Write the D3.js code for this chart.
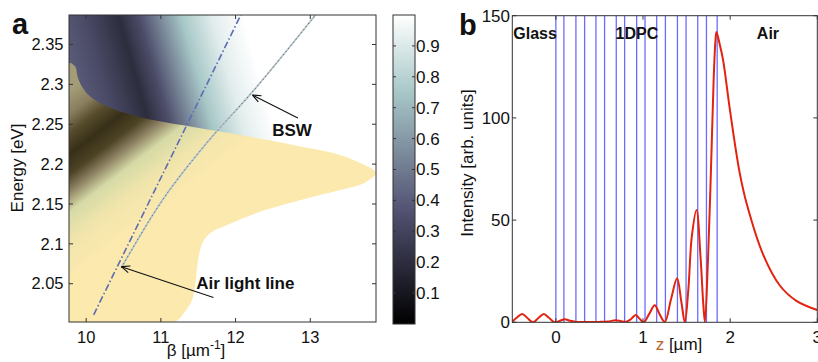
<!DOCTYPE html>
<html><head><meta charset="utf-8">
<script src="https://cdn.jsdelivr.net/npm/d3@7"></script>
<style>
body{margin:0;background:#fff}
svg{display:block}
text{font-family:"Liberation Sans",Arial,Helvetica,sans-serif;fill:#111}
</style>
</head><body>
<svg id="chart" width="818" height="362"></svg>
<script>
// ---------------- data ----------------
const betaDomain = [9.77, 13.88];
const energyDomain = [2.002, 2.387];
const betaTicks = [10, 11, 12, 13];
const energyTicks = [2.05, 2.1, 2.15, 2.2, 2.25, 2.3, 2.35];
const colorbarTicks = [0.1, 0.2, 0.3, 0.4, 0.5, 0.6, 0.7, 0.8, 0.9];
const boneStops = [[0, "#000000"], [0.375, "#545474"], [0.75, "#a7c7c7"], [1, "#ffffff"]];
const yellowRamp = [[0, "#2e2712"], [0.25, "#554a2a"], [0.5, "#938868"], [0.75, "#d6daa6"], [1, "#fce9ae"]];

// heat-map gradient: axis (start/end in beta,E) and value profile along it
const heatUpperAxis = [[9.843, 2.305], [12.161, 2.367]];
const heatUpperProfile = [[0, 0.40], [0.15, 0.33], [0.333, 0.20], [0.44, 0.34], [0.55, 0.54], [0.667, 0.75], [0.833, 0.92], [1, 1]];
const heatLowerAxis = [[9.782, 2.2916], [10.999, 2.1421]];
const heatLowerProfile = [[0, 0.56], [0.12, 0.46], [0.22, 0.26], [0.333, 0.06], [0.44, 0.2], [0.54, 0.5], [0.64, 0.75], [0.8, 0.93], [1, 1]];

// yellow (leaky) region outline, beta vs energy; first 16 points = upper boundary
const yellowRegion = [
  [9.77, 2.3266], [9.853, 2.3223], [9.884, 2.3098], [9.942, 2.2972], [10.054, 2.2847],
  [10.232, 2.2743], [10.455, 2.2659], [10.723, 2.2589], [11.080, 2.2521], [11.526, 2.2451],
  [11.972, 2.2380], [12.419, 2.2305], [12.865, 2.2221], [13.311, 2.2138], [13.668, 2.2013],
  [13.88, 2.1891], [13.758, 2.1782], [13.668, 2.1741], [13.039, 2.1590], [12.329, 2.1402],
  [11.928, 2.1252], [11.687, 2.1152], [11.580, 2.1051], [11.526, 2.0926], [11.486, 2.0713],
  [11.459, 2.0487], [11.419, 2.0300], [11.312, 2.0137], [11.178, 2.002], [9.77, 2.002]
];
const airLightLine = [[10.10, 2.011], [12.07, 2.387]];
const bswLine = [[10.47, 2.070], [11.0, 2.152], [11.6, 2.225], [12.22, 2.290], [13.07, 2.387]];
const annotations = [
  {text: "BSW", at: [12.49, 2.2355], from: [12.834, 2.2577], to: [12.227, 2.2866]},
  {text: "Air light line", at: [11.473, 2.0431], from: [11.704, 2.0328], to: [10.472, 2.0714]}
];

// panel b
const zDomain = [-0.5, 3];
const intensityDomain = [0, 150];
const zTicks = [0, 1, 2, 3];
const intensityTicks = [0, 50, 100, 150];
const layerEdges = [0, 0.092, 0.230, 0.330, 0.460, 0.559, 0.693, 0.789, 0.927, 1.023, 1.157, 1.257, 1.395, 1.494, 1.628, 1.728, 1.851];
const zValues = [-0.5, -0.45, -0.386, -0.33, -0.264, -0.2, -0.138, -0.08, -0.015, 0.04, 0.1, 0.16, 0.22, 0.3, 0.4, 0.5, 0.6, 0.686, 0.75, 0.81, 0.86, 0.916, 0.96, 1.008, 1.07, 1.134, 1.19, 1.25, 1.32, 1.391, 1.44, 1.48, 1.52, 1.56, 1.614, 1.66, 1.69, 1.71, 1.745, 1.78, 1.81, 1.83, 1.843, 1.88, 1.92, 1.997, 2.11, 2.19, 2.38, 2.57, 2.76, 3.0];
const intensityValues = [0.3, 2.2, 4.1, 2.2, 0.05, 2.1, 4.1, 2.2, 0.05, 0.6, 1.5, 0.8, 0.3, 0.2, 0.2, 0.2, 0.4, 1.0, 0.5, 0.3, 1.5, 3.6, 1.8, 0.05, 4, 8.3, 4, 0.2, 11, 21.5, 10, 0.05, 16, 42, 55, 32, 10, 0.1, 30, 75, 118, 137, 142, 136, 128, 104, 73, 58, 33, 18, 10.5, 6];
const regionLabels = [{text: "Glass", z: -0.5}, {text: "1DPC", z: 0.674}, {text: "Air", z: 2.295}];
const regionLabelLevel = 138.5;

// ---------------- drawing ----------------
const svg = d3.select("#chart");
const defs = svg.append("defs");
const A = {l: 69, r: 376, t: 15, b: 322};
const CB = {l: 393, r: 415, t: 15, b: 324};
const B = {l: 512.3, r: 817.3, t: 15.7, b: 322.3};

const x = d3.scaleLinear().domain(betaDomain).range([A.l, A.r]);
const y = d3.scaleLinear().domain(energyDomain).range([A.b, A.t]);
const bone = d3.scaleLinear().domain(boneStops.map(d => d[0])).range(boneStops.map(d => d[1])).interpolate(d3.interpolateRgb);
const yellowScale = d3.scaleLinear().domain(yellowRamp.map(d => d[0])).range(yellowRamp.map(d => d[1])).interpolate(d3.interpolateRgb);

function makeGrad(id, axis, profile, colorFn) {
  const g = defs.append("linearGradient").attr("id", id).attr("gradientUnits", "userSpaceOnUse")
    .attr("x1", x(axis[0][0])).attr("y1", y(axis[0][1])).attr("x2", x(axis[1][0])).attr("y2", y(axis[1][1]));
  g.selectAll("stop").data(profile).join("stop").attr("offset", d => d[0]).attr("stop-color", d => colorFn(d[1]));
}
makeGrad("heatUpper", heatUpperAxis, heatUpperProfile, bone);
makeGrad("heatLower", heatLowerAxis, heatLowerProfile, yellowScale);

defs.append("clipPath").attr("id", "clipA").append("rect").attr("x", A.l).attr("y", A.t).attr("width", A.r - A.l).attr("height", A.b - A.t);
defs.append("clipPath").attr("id", "clipB").append("rect").attr("x", B.l).attr("y", B.t).attr("width", B.r - B.l).attr("height", B.b - B.t);

const gA = svg.append("g").attr("clip-path", "url(#clipA)");
// upper heat region: above the yellow region's upper boundary
const upperBoundary = yellowRegion.slice(0, 16);
const openLine = d3.line().x(d => x(d[0])).y(d => y(d[1])).curve(d3.curveCatmullRom);
const upperPath = openLine([[betaDomain[0] - 0.1, upperBoundary[0][1]], ...upperBoundary, [betaDomain[1] + 0.1, upperBoundary[15][1]]]) +
  `L${x(betaDomain[1]) + 8},${y(energyDomain[1]) - 8}L${x(betaDomain[0]) - 8},${y(energyDomain[1]) - 8}Z`;
gA.append("path").attr("d", upperPath).attr("fill", "url(#heatUpper)")
  .attr("stroke", "url(#heatUpper)").attr("stroke-width", 2.5);
gA.append("path").datum(yellowRegion).attr("d", d3.line().x(d => x(d[0])).y(d => y(d[1])).curve(d3.curveCatmullRomClosed))
  .attr("fill", "url(#heatLower)");

gA.append("path").datum(airLightLine).attr("d", d3.line().x(d => x(d[0])).y(d => y(d[1])))
  .attr("fill", "none").attr("stroke", "#5c6cb4").attr("stroke-width", 1.6).attr("stroke-dasharray", "7,2.5,1.5,2.5");
gA.append("path").datum(bswLine).attr("d", d3.line().x(d => x(d[0])).y(d => y(d[1])).curve(d3.curveMonotoneX))
  .attr("fill", "none").attr("stroke", "#b8c8cc").attr("stroke-width", 1.8);
gA.append("path").datum(bswLine).attr("d", d3.line().x(d => x(d[0])).y(d => y(d[1])).curve(d3.curveMonotoneX))
  .attr("fill", "none").attr("stroke", "#66707a").attr("stroke-width", 1).attr("stroke-dasharray", "1.5,2.5");

// annotations
annotations.forEach(a => {
  const x1 = x(a.from[0]), y1 = y(a.from[1]), x2 = x(a.to[0]), y2 = y(a.to[1]);
  svg.append("line").attr("x1", x1).attr("y1", y1).attr("x2", x2).attr("y2", y2).attr("stroke", "#111").attr("stroke-width", 1.1);
  const ang = Math.atan2(y1 - y2, x1 - x2), L = 9, w = 0.4;
  [ang + w, ang - w].forEach(t => svg.append("line").attr("x1", x2).attr("y1", y2)
    .attr("x2", x2 + L * Math.cos(t)).attr("y2", y2 + L * Math.sin(t)).attr("stroke", "#111").attr("stroke-width", 1.1));
  svg.append("text").attr("x", x(a.at[0])).attr("y", y(a.at[1])).attr("font-size", 17).attr("font-weight", "bold").text(a.text);
});

// frame + ticks panel a
function frame(box, stroke) {
  svg.append("rect").attr("x", box.l).attr("y", box.t).attr("width", box.r - box.l).attr("height", box.b - box.t)
    .attr("fill", "none").attr("stroke", stroke).attr("stroke-width", 1);
}
frame(A, "#333");
const tickLen = 4;
betaTicks.forEach(v => {
  svg.append("line").attr("x1", x(v)).attr("x2", x(v)).attr("y1", A.b).attr("y2", A.b - tickLen).attr("stroke", "#333");
  svg.append("line").attr("x1", x(v)).attr("x2", x(v)).attr("y1", A.t).attr("y2", A.t + tickLen).attr("stroke", "#333");
  svg.append("text").attr("x", x(v)).attr("y", 343).attr("text-anchor", "middle").attr("font-size", 16.5).text(v);
});
energyTicks.forEach(v => {
  svg.append("line").attr("x1", A.l).attr("x2", A.l + tickLen).attr("y1", y(v)).attr("y2", y(v)).attr("stroke", "#333");
  svg.append("line").attr("x1", A.r).attr("x2", A.r - tickLen).attr("y1", y(v)).attr("y2", y(v)).attr("stroke", "#333");
  svg.append("text").attr("x", 63.5).attr("y", y(v)).attr("dy", "0.35em").attr("text-anchor", "end").attr("font-size", 16.5).text(v);
});
svg.append("text").attr("transform", "translate(22.5,168) rotate(-90)").attr("text-anchor", "middle").attr("font-size", 17).text("Energy [eV]");
const bt = svg.append("text").attr("x", 196).attr("y", 356).attr("text-anchor", "middle").attr("font-size", 17);
bt.append("tspan").text("β [µm");
bt.append("tspan").attr("dy", -7).attr("font-size", 12).text("-1");
bt.append("tspan").attr("dy", 7).text("]");
svg.append("text").attr("x", 12).attr("y", 34).attr("font-size", 29).attr("font-weight", "bold").text("a");

// colorbar
const cy = d3.scaleLinear().domain([0, 1]).range([CB.b, CB.t]);
const cg = defs.append("linearGradient").attr("id", "cbGrad").attr("gradientUnits", "userSpaceOnUse")
  .attr("x1", 0).attr("x2", 0).attr("y1", cy(0)).attr("y2", cy(1));
cg.selectAll("stop").data(boneStops).join("stop").attr("offset", d => d[0]).attr("stop-color", d => d[1]);
svg.append("rect").attr("x", CB.l).attr("y", CB.t).attr("width", CB.r - CB.l).attr("height", CB.b - CB.t).attr("fill", "url(#cbGrad)");
frame(CB, "#333");
colorbarTicks.forEach(v => {
  svg.append("line").attr("x1", CB.l).attr("x2", CB.l + 3).attr("y1", cy(v)).attr("y2", cy(v)).attr("stroke", "#333");
  svg.append("line").attr("x1", CB.r).attr("x2", CB.r - 3).attr("y1", cy(v)).attr("y2", cy(v)).attr("stroke", "#333");
  svg.append("text").attr("x", 416).attr("y", cy(v)).attr("dy", "0.35em").attr("font-size", 17).text(v);
});

// panel b
const zx = d3.scaleLinear().domain(zDomain).range([B.l, B.r]);
const iy = d3.scaleLinear().domain(intensityDomain).range([B.b, B.t]);
const gB = svg.append("g").attr("clip-path", "url(#clipB)");
gB.selectAll("line.layer").data(layerEdges).join("line").attr("class", "layer")
  .attr("x1", d => zx(d)).attr("x2", d => zx(d)).attr("y1", B.t).attr("y2", B.b)
  .attr("stroke", "#6b6bff").attr("stroke-width", 1.3);
const curve = zValues.map((z, i) => [z, intensityValues[i]]);
gB.append("path").datum(curve).attr("d", d3.line().x(d => zx(d[0])).y(d => iy(d[1])).curve(d3.curveCatmullRom.alpha(0.5)))
  .attr("fill", "none").attr("stroke", "#e3220f").attr("stroke-width", 2);
frame(B, "#333");
zTicks.forEach(v => {
  svg.append("line").attr("x1", zx(v)).attr("x2", zx(v)).attr("y1", B.b).attr("y2", B.b - tickLen).attr("stroke", "#333");
  svg.append("line").attr("x1", zx(v)).attr("x2", zx(v)).attr("y1", B.t).attr("y2", B.t + tickLen).attr("stroke", "#333");
  svg.append("text").attr("x", zx(v)).attr("y", 343).attr("text-anchor", "middle").attr("font-size", 17).text(v);
});
intensityTicks.forEach(v => {
  svg.append("line").attr("x1", B.l).attr("x2", B.l + tickLen).attr("y1", iy(v)).attr("y2", iy(v)).attr("stroke", "#333");
  svg.append("line").attr("x1", B.r).attr("x2", B.r - tickLen).attr("y1", iy(v)).attr("y2", iy(v)).attr("stroke", "#333");
  svg.append("text").attr("x", 510).attr("y", iy(v)).attr("dy", "0.35em").attr("text-anchor", "end").attr("font-size", 17).text(v);
});
regionLabels.forEach(r => svg.append("text").attr("x", zx(r.z) + 1).attr("y", iy(regionLabelLevel))
  .attr("font-size", 16).attr("font-weight", "bold").text(r.text));
const zt = svg.append("text").attr("x", 679).attr("y", 350).attr("text-anchor", "middle").attr("font-size", 17);
zt.append("tspan").style("fill", "#b8652e").text("z");
zt.append("tspan").text(" [µm]");
svg.append("text").attr("transform", "translate(472.5,163) rotate(-90)").attr("text-anchor", "middle").attr("font-size", 17).text("Intensity [arb. units]");
svg.append("text").attr("x", 459).attr("y", 35).attr("font-size", 29).attr("font-weight", "bold").text("b");
</script>
</body></html>
